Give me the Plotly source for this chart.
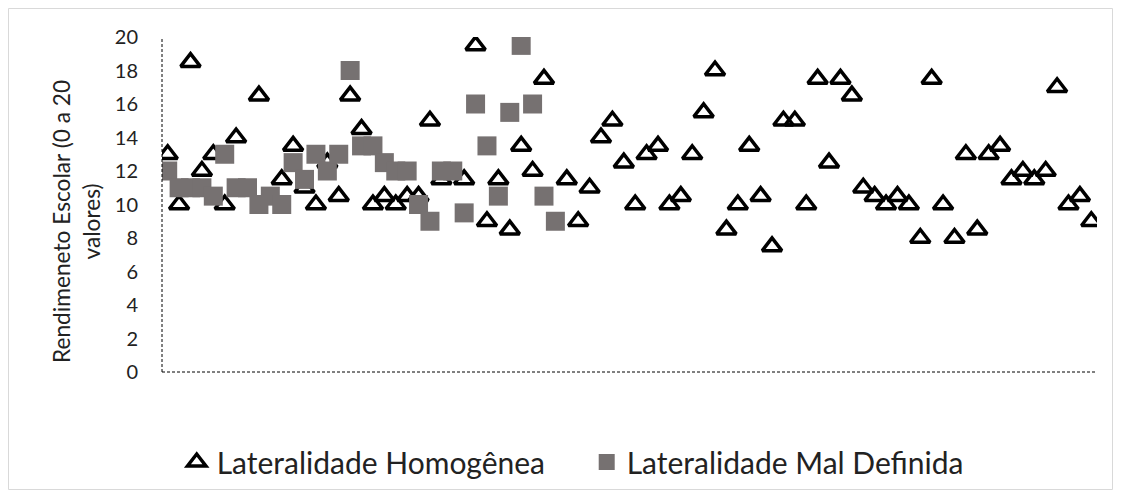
import plotly.graph_objects as go

categories = list(range(1, 83))

homogenea = [
    13, 10, 18.5, 12, 13, 10, 14, None, 16.5, None,
    11.5, 13.5, 11, 10, 12.5, 10.5, 16.5, 14.5, 10, 10.5,
    10, 10.5, 10.5, 15, 11.5, None, 11.5, 19.5, 9, 11.5,
    8.5, 13.5, 12, 17.5, None, 11.5, 9, 11, 14, 15,
    12.5, 10, 13, 13.5, 10, 10.5, 13, 15.5, 18, 8.5,
    10, 13.5, 10.5, 7.5, 15, 15, 10, 17.5, 12.5, 17.5,
    16.5, 11, 10.5, 10, 10.5, 10, 8, 17.5, 10, 8,
    13, 8.5, 13, 13.5, 11.5, 12, 11.5, 12, 17, 10,
    10.5, 9,
]

mal_definida = [
    12, 11, 11, 11, 10.5, 13, 11, 11, 10, 10.5,
    10, 12.5, 11.5, 13, 12, 13, 18, 13.5, 13.5, 12.5,
    12, 12, 10, 9, 12, 12, 9.5, 16, 13.5, 10.5,
    15.5, 19.5, 16, 10.5, 9,
] + [None] * 47

y_ticks = list(range(0, 21, 2))

FONT = "Lato, 'Liberation Sans', sans-serif"
TXT = "#222222"

fig = go.Figure()
fig.add_trace(go.Scatter(
    x=categories, y=homogenea, mode="markers", name="Lateralidade Homogênea",
    marker=dict(symbol="triangle-up-open", size=17, color="black",
                line=dict(width=3.5, color="black")),
))
fig.add_trace(go.Scatter(
    x=categories, y=mal_definida, mode="markers", name="Lateralidade Mal Definida",
    marker=dict(symbol="square", size=19, color="#767171", line=dict(width=0)),
))

W, H = 1121, 498
OFF = 8  # page body margin
L, R, T, B = 154, 32, 29, 134
pw, ph = W - L - R, H - T - B


def fx(xf):
    """figure px -> paper x"""
    return (xf - L) / pw


def fy(yf):
    """figure px -> paper y"""
    return (H - B - yf) / ph


fig.update_layout(
    width=W, height=H,
    margin=dict(l=L, r=R, t=T, b=B),
    paper_bgcolor="white", plot_bgcolor="white",
    font=dict(family=FONT, color=TXT),
    showlegend=True,
    legend=dict(orientation="h", xref="container", yref="container",
                x=0.1505, xanchor="left", y=1 - (462 - OFF) / H, yanchor="middle",
                font=dict(size=30, color=TXT), itemsizing="trace",
                entrywidth=365, entrywidthmode="pixels"),
    xaxis=dict(range=[0.5, 82.5], showticklabels=False, showgrid=False,
               zeroline=False, showline=False, ticks=""),
    yaxis=dict(range=[0, 20], tickvals=y_ticks, showgrid=False, zeroline=False,
               showline=False, ticks="", ticklabelstandoff=23,
               tickfont=dict(size=20, color=TXT)),
    shapes=[
        dict(type="line", xref="paper", yref="paper", x0=0, x1=0, y0=0, y1=1,
             line=dict(color="black", width=1, dash="3px,2px")),
        dict(type="line", xref="paper", yref="paper", x0=0, x1=1, y0=0, y1=0,
             line=dict(color="black", width=1, dash="3px,2px")),
        dict(type="rect", xref="paper", yref="paper",
             x0=fx(0.5), x1=fx(1104.5), y0=fy(481.5), y1=fy(0.5),
             line=dict(color="#d9d9d9", width=1), fillcolor="rgba(0,0,0,0)",
             layer="below"),
    ],
    annotations=[
        dict(text="Rendimeneto Escolar (0 a 20<br>valores)", textangle=-90,
             xref="paper", yref="paper", x=fx(76 - OFF), y=fy(222 - OFF),
             xanchor="center", yanchor="middle", showarrow=False,
             font=dict(size=22.7, color=TXT)),
    ],
)

fig.write_html("out.html")
